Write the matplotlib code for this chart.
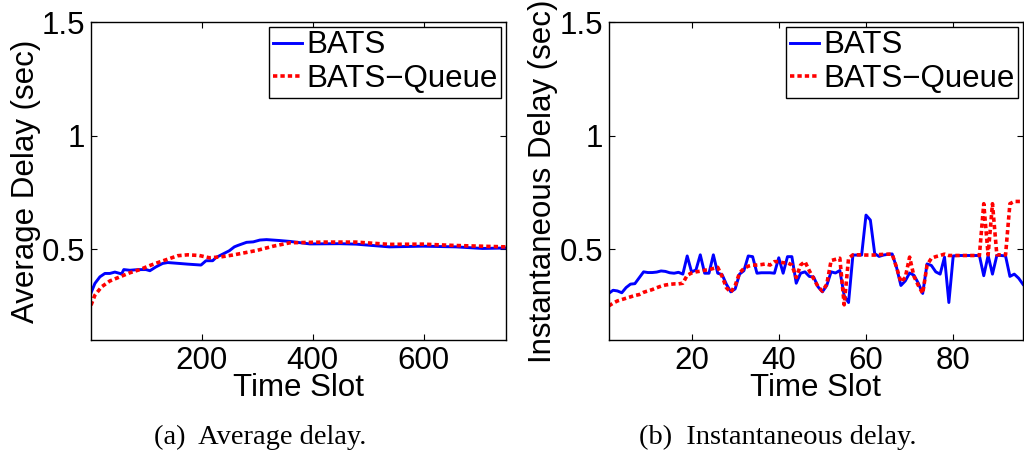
import matplotlib
matplotlib.use("Agg")
import matplotlib.pyplot as plt

plt.rcParams["font.family"] = ["Liberation Sans", "DejaVu Sans"]

# ---- (a) average delay ----
avg_bats_x = [1, 8, 17, 26, 35, 44, 53, 56, 60, 71, 86, 100, 107, 118, 130, 139,
              160, 175, 199, 208, 220, 226, 238, 250, 259, 265, 281, 293, 305,
              317, 340, 359, 395, 449, 478, 538, 598, 658, 706, 747]
avg_bats_y = [0.307, 0.349, 0.378, 0.393, 0.393, 0.399, 0.393, 0.390, 0.410,
              0.407, 0.410, 0.410, 0.405, 0.422, 0.437, 0.441, 0.437, 0.434,
              0.430, 0.449, 0.449, 0.463, 0.478, 0.493, 0.510, 0.516, 0.530,
              0.532, 0.540, 0.542, 0.538, 0.534, 0.523, 0.524, 0.522, 0.510,
              0.513, 0.510, 0.503, 0.505]
avg_queue_x = [1, 8, 20, 35, 53, 71, 89, 107, 125, 143, 157, 175, 196, 214, 235,
               256, 269, 299, 329, 359, 419, 478, 538, 598, 658, 748]
avg_queue_y = [0.253, 0.297, 0.334, 0.360, 0.378, 0.396, 0.410, 0.428, 0.444,
               0.459, 0.471, 0.475, 0.472, 0.462, 0.466, 0.474, 0.480, 0.494,
               0.513, 0.528, 0.531, 0.531, 0.521, 0.522, 0.516, 0.510]

# ---- (b) instantaneous delay, one value per time slot ----
slots = list(range(1, 97))
inst_bats = [0.305, 0.319, 0.316, 0.308, 0.331, 0.346, 0.348, 0.374, 0.400, 0.397,
             0.397, 0.399, 0.404, 0.402, 0.396, 0.394, 0.398, 0.390, 0.470, 0.400,
             0.408, 0.475, 0.394, 0.394, 0.475, 0.394, 0.388, 0.345, 0.312, 0.325,
             0.390, 0.405, 0.470, 0.467, 0.394, 0.396, 0.396, 0.396, 0.394, 0.462,
             0.394, 0.467, 0.467, 0.350, 0.394, 0.400, 0.380, 0.377, 0.334, 0.312,
             0.340, 0.400, 0.395, 0.406, 0.295, 0.265, 0.474, 0.474, 0.474, 0.650,
             0.628, 0.480, 0.468, 0.474, 0.477, 0.479, 0.420, 0.340, 0.360, 0.395,
             0.385, 0.350, 0.305, 0.435, 0.428, 0.400, 0.390, 0.465, 0.265, 0.470,
             0.472, 0.472, 0.472, 0.472, 0.472, 0.472, 0.383, 0.472, 0.390, 0.472,
             0.472, 0.470, 0.380, 0.390, 0.372, 0.345]
inst_queue = [0.250, 0.262, 0.272, 0.278, 0.284, 0.290, 0.296, 0.300, 0.310, 0.316,
              0.322, 0.330, 0.337, 0.342, 0.345, 0.347, 0.347, 0.350, 0.385, 0.395,
              0.400, 0.403, 0.407, 0.410, 0.415, 0.420, 0.380, 0.330, 0.310, 0.340,
              0.395, 0.415, 0.425, 0.430, 0.430, 0.432, 0.435, 0.430, 0.445, 0.445,
              0.440, 0.440, 0.430, 0.375, 0.430, 0.445, 0.405, 0.370, 0.335, 0.315,
              0.345, 0.450, 0.455, 0.460, 0.255, 0.460, 0.475, 0.475, 0.475, 0.474,
              0.474, 0.474, 0.476, 0.477, 0.478, 0.478, 0.420, 0.355, 0.375, 0.465,
              0.380, 0.340, 0.305, 0.430, 0.460, 0.467, 0.472, 0.478, 0.472, 0.472,
              0.472, 0.472, 0.472, 0.472, 0.472, 0.472, 0.700, 0.475, 0.700, 0.475,
              0.475, 0.475, 0.700, 0.710, 0.710, 0.710]

series_labels = ["BATS", "BATS\u2212Queue"]
y_ticks = [0.5, 1.0, 1.5]
y_tick_labels = ["0.5", "1", "1.5"]

FS = 22.5
BLUE = (0, 0, 1)
RED = (1, 0, 0)
DOTS = (0, (1.2, 0.85))

fig = plt.figure(figsize=(10.24, 4.53), dpi=100)
ax1 = fig.add_axes([91 / 1024, 1 - 340 / 453, 415 / 1024, 318 / 453])
ax2 = fig.add_axes([608.7 / 1024, 1 - 340 / 453, 414.3 / 1024, 318 / 453])


def style(ax, xlim, xticks, ylabel):
    ax.set_xlim(*xlim)
    ax.set_ylim(0.1, 1.5)
    ax.set_xticks(xticks)
    ax.set_xticklabels([str(t) for t in xticks])
    ax.set_yticks(y_ticks)
    ax.set_yticklabels(y_tick_labels)
    ax.tick_params(direction="in", length=4, width=0.8, top=True, right=True,
                   labelsize=FS, pad=4)
    for s in ax.spines.values():
        s.set_linewidth(1.0)
    ax.set_xlabel("Time Slot", fontsize=FS, labelpad=-2)
    ax.set_ylabel(ylabel, fontsize=FS, labelpad=1)
    leg = ax.legend(loc="upper right", fontsize=FS, fancybox=False,
                    edgecolor="black", framealpha=1, borderaxespad=0.15,
                    handlelength=0.95, handletextpad=0.12, borderpad=0.12,
                    labelspacing=0.12)
    leg.get_frame().set_linewidth(1.0)


ax1.plot(avg_bats_x, avg_bats_y, color=BLUE, lw=2.1, label=series_labels[0])
ax1.plot(avg_queue_x, avg_queue_y, color=RED, lw=2.6, linestyle=DOTS,
         label=series_labels[1])
style(ax1, (1, 748), [200, 400, 600], "Average Delay (sec)")

ax2.plot(slots, inst_bats, color=BLUE, lw=2.1, label=series_labels[0])
ax2.plot(slots, inst_queue, color=RED, lw=2.6, linestyle=DOTS,
         label=series_labels[1])
style(ax2, (1, 96), [20, 40, 60, 80], "Instantaneous Delay (sec)")

cap_font = ["Liberation Serif", "DejaVu Serif"]
fig.text(260 / 1024, 1 - 437 / 453, "(a)  Average delay.", ha="center", va="center",
         fontsize=20.5, family=cap_font)
fig.text(778 / 1024, 1 - 437 / 453, "(b)  Instantaneous delay.", ha="center",
         va="center", fontsize=20.5, family=cap_font)

fig.savefig("out.png", dpi=100)
